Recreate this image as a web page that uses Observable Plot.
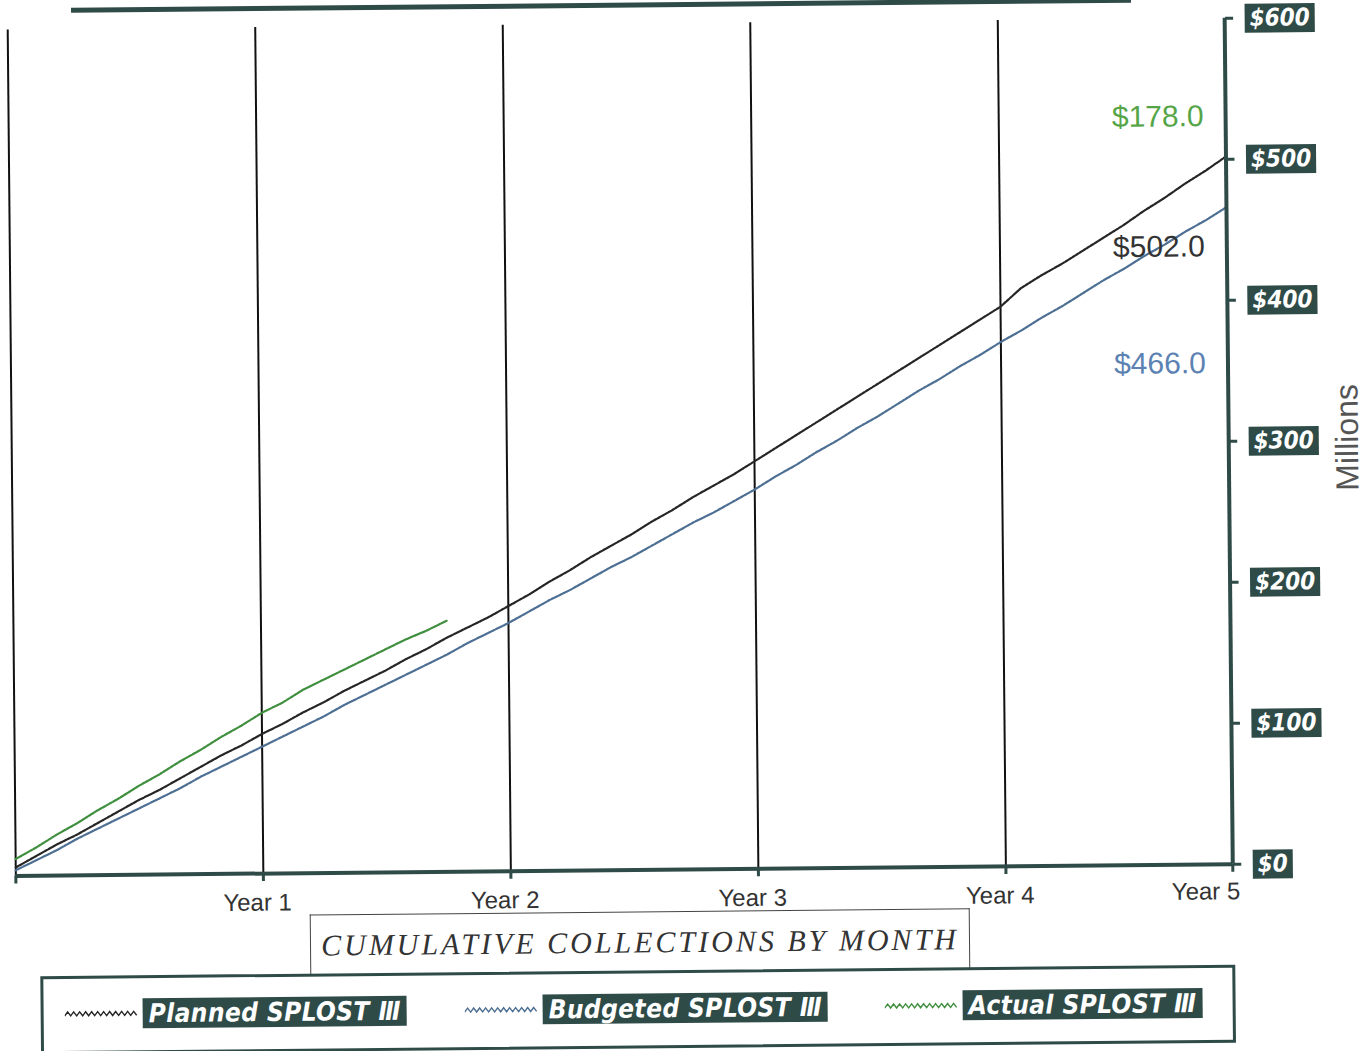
<!DOCTYPE html>
<html><head><meta charset="utf-8">
<script src="https://cdn.jsdelivr.net/npm/d3@7"></script>
<script src="https://cdn.jsdelivr.net/npm/@observablehq/plot@0.6"></script>
<style>
body{margin:0;background:#fff;overflow:hidden}
#wrap{position:relative;width:1367px;height:1051px;transform:rotate(-0.55deg);transform-origin:683.5px 525.5px}
#chart{position:absolute;left:0;top:0}
#chart svg{overflow:visible}
.topbar{position:absolute;left:76px;top:2px;width:1060px;height:5px;background:#2f4b48}
.titlebox{position:absolute;left:306px;top:911px;width:660px;height:61px;border:1.5px solid #444;border-bottom:none;box-sizing:border-box;display:flex;align-items:center;justify-content:center;font-family:"Liberation Serif",serif;font-style:italic;font-size:30px;color:#333;letter-spacing:3px;white-space:nowrap}
.legend{position:absolute;left:36px;top:970px;width:1195px;height:78px;border:3px solid #2f4b48;box-sizing:border-box}
.item{position:absolute;top:20px;display:flex;align-items:center;height:30px}
.item svg{margin-right:5px}
.lab{background:#2f4b48;color:#fff;font-family:"DejaVu Sans Condensed","DejaVu Sans",sans-serif;font-weight:bold;font-style:italic;font-size:26px;line-height:30px;padding:0 6px;letter-spacing:0.4px;white-space:nowrap}
</style>
</head><body>
<div id="wrap">
  <div class="topbar"></div>
  <div id="chart"></div>
  <div class="titlebox" id="xtitle"></div>
  <div class="legend" id="legend"></div>
</div>
<script>
// ---- data (millions of dollars, cumulative by month) ----
const seriesNames = ["Planned SPLOST Ⅲ", "Budgeted SPLOST Ⅲ", "Actual SPLOST Ⅲ"];
const planned = [6,14,22,29,37,45,53,60,68,76,84,91,99,
  106,114,121,129,136,143,151,158,166,173,180,188,
  196,205,213,222,230,238,247,255,264,272,280,289,
  298,307,316,325,334,343,352,361,370,379,388,397,
  410,419,427,436,445,454,464,473,483,492,502];
const budgeted = [4,11,18,26,33,40,47,54,61,69,76,83,90,
  97,104,111,119,126,133,140,147,154,162,169,176,
  184,192,199,207,215,222,230,238,246,253,261,269,
  278,286,295,303,312,320,329,338,346,355,363,372,
  380,389,397,406,415,423,432,440,449,457,466];
const actual = [12,20,29,37,46,54,63,71,80,88,97,105,114,
  121,130,137,144,151,158,165,171,178];
const gridMonths = [1,13,25,37,49];
const yearTickMonths = [13,25,37,49,60];
const yearTickLabels = ["Year 1","Year 2","Year 3","Year 4","Year 5"];
const yTicks = [0,100,200,300,400,500,600];
const xTitle = "CUMULATIVE COLLECTIONS BY MONTH";
const yTitle = "Millions";

// ---- styles ----
const teal = "#2f4b48";
const colors = {"Planned SPLOST Ⅲ":"#262626","Budgeted SPLOST Ⅲ":"#4d6f93","Actual SPLOST Ⅲ":"#3f8f3f"};
const labelColors = {"Planned SPLOST Ⅲ":"#333333","Budgeted SPLOST Ⅲ":"#5b82b3","Actual SPLOST Ⅲ":"#55a547"};

const rows = [];
[planned, budgeted, actual].forEach((arr, i) => arr.forEach((v, j) => rows.push({series: seriesNames[i], month: j + 1, value: v})));
const yearRows = yearTickMonths.map((m, i) => ({month: m, label: yearTickLabels[i]}));

const endLabel = (name, dx, dy) => Plot.text(rows.filter(d => d.series === name), Plot.selectLast({
  x: "month", y: "value", text: d => `$${d.value.toFixed(1)}`, fill: labelColors[name],
  dx, dy, fontSize: 30, fontFamily: "Liberation Sans, Arial, sans-serif"
}));

const chart = Plot.plot({
  width: 1367, height: 910,
  marginTop: 23, marginBottom: 41, marginLeft: 12, marginRight: 138,
  x: {domain: [1, 60], axis: null},
  y: {domain: [0, 600], axis: null},
  style: {background: "transparent"},
  marks: [
    Plot.gridX(gridMonths, {stroke: "#111", strokeOpacity: 1, strokeWidth: 2}),
    ...seriesNames.map(s => Plot.line(rows.filter(d => d.series === s), {x: "month", y: "value", stroke: colors[s], strokeWidth: 2.2, strokeDasharray: "3,1.2"})),
    Plot.ruleY([0], {stroke: teal, strokeWidth: 4}),
    Plot.ruleX([60], {stroke: teal, strokeWidth: 4}),
    Plot.axisX({ticks: [1, ...yearTickMonths], tickSize: 8, tickFormat: () => "", label: null, stroke: teal, strokeWidth: 3}),
    Plot.text(yearRows.filter(d => d.month < 60), {x: "month", text: "label", frameAnchor: "bottom", dy: 37, dx: -6, fontSize: 24, fill: "#333", fontFamily: "Liberation Sans, Arial, sans-serif"}),
    Plot.text(yearRows.filter(d => d.month === 60), {x: "month", text: "label", frameAnchor: "bottom", dy: 35, dx: -27, fontSize: 24, fill: "#333", fontFamily: "Liberation Sans, Arial, sans-serif"}),
    Plot.axisY({anchor: "right", ticks: yTicks, tickFormat: d => "$" + d, tickSize: 8, tickPadding: 17,
      stroke: teal, strokeWidth: 3, fill: "white", fontSize: 24, fontWeight: "bold", fontStyle: "italic",
      fontFamily: "DejaVu Sans Condensed, DejaVu Sans, sans-serif", textAnchor: "start", label: null}),
    Plot.text([yTitle], {frameAnchor: "right", rotate: -90, dx: 119, dy: -56, fontSize: 32, fill: "#555", fontFamily: "Liberation Sans, Arial, sans-serif"}),
    endLabel("Actual SPLOST Ⅲ", 716, -497),
    endLabel("Planned SPLOST Ⅲ", -68, 90),
    endLabel("Budgeted SPLOST Ⅲ", -68, 156)
  ]
});
document.getElementById("chart").append(chart);

// dark boxes behind right-axis tick labels
chart.querySelectorAll('g[aria-label="y-axis tick label"] text').forEach(t => {
  const b = t.getBBox();
  const r = document.createElementNS("http://www.w3.org/2000/svg", "rect");
  r.setAttribute("x", b.x - 5); r.setAttribute("y", b.y);
  r.setAttribute("width", b.width + 10); r.setAttribute("height", b.height + 1);
  if (t.getAttribute("transform")) r.setAttribute("transform", t.getAttribute("transform"));
  r.setAttribute("fill", teal);
  t.parentNode.insertBefore(r, t);
});

document.getElementById("xtitle").textContent = xTitle;

// legend
const legend = document.getElementById("legend");
const itemLefts = [21, 421, 841];
seriesNames.forEach((s, i) => {
  const item = document.createElement("div");
  item.className = "item";
  item.style.left = itemLefts[i] + "px";
  const pts = d3.range(0, 74, 3).map((x, k) => `${x},${k % 2 ? 3 : 7}`).join(" ");
  item.innerHTML = `<svg width="73" height="10"><polyline points="${pts}" fill="none" stroke="${colors[s]}" stroke-width="1.4"/></svg><span class="lab">${s}</span>`;
  legend.append(item);
});
</script>
</body></html>
